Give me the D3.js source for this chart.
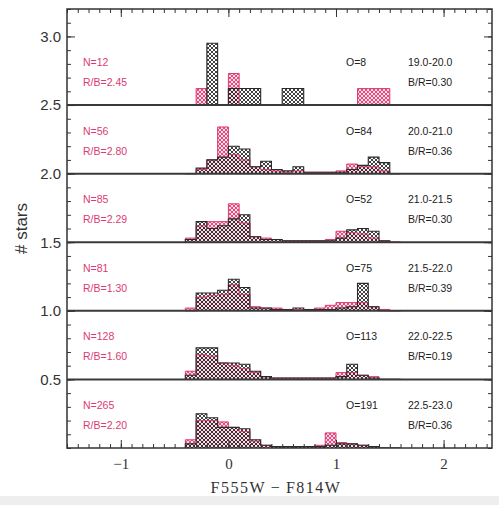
<!DOCTYPE html>
<html>
<head>
<meta charset="utf-8">
<script src="https://cdn.jsdelivr.net/npm/d3@7"></script>
<style>
  html, body { margin: 0; padding: 0; background: #ffffff; }
  svg { display: block; }
</style>
</head>
<body>
<svg id="chart" width="499" height="505"></svg>
<script>
// Colour-distribution histograms, one strip per magnitude bin (stacked by offset)
const binStarts = [-0.4, -0.3, -0.2, -0.1, 0.0, 0.1, 0.2, 0.3, 0.4, 0.5,
                   0.6, 0.7, 0.8, 0.9, 1.0, 1.1, 1.2, 1.3, 1.4, 1.5];
const binWidth = 0.1;

const panelOffsets = [2.5, 2.0, 1.5, 1.0, 0.5, 0.0];

const redLabels   = ["N=12", "N=56", "N=85", "N=81", "N=128", "N=265"];
const ratioLabels = ["R/B=2.45", "R/B=2.80", "R/B=2.29", "R/B=1.30", "R/B=1.60", "R/B=2.20"];
const blackLabels = ["O=8", "O=84", "O=52", "O=75", "O=113", "O=191"];
const magLabels   = ["19.0-20.0", "20.0-21.0", "21.0-21.5", "21.5-22.0", "22.0-22.5", "22.5-23.0"];
const bRatioLabels = ["B/R=0.30", "B/R=0.36", "B/R=0.30", "B/R=0.39", "B/R=0.19", "B/R=0.36"];

const redValues = [
  [0, 0.12, 0, 0, 0.23, 0, 0, 0, 0, 0, 0, 0, 0, 0, 0, 0, 0.12, 0.12, 0.12, 0],
  [0, 0.03, 0.10, 0.34, 0.14, 0.10, 0.05, 0.03, 0.02, 0.01, 0.02, 0.01, 0.01, 0.01, 0.02, 0.07, 0.05, 0.05, 0.02, 0],
  [0.03, 0.12, 0.15, 0.15, 0.28, 0.14, 0.04, 0.03, 0.02, 0.01, 0.01, 0.01, 0.01, 0.02, 0.08, 0.07, 0.06, 0.03, 0.01, 0],
  [0.02, 0.10, 0.11, 0.12, 0.19, 0.12, 0.03, 0.02, 0.02, 0.01, 0.01, 0.01, 0.02, 0.04, 0.06, 0.06, 0.06, 0.03, 0.01, 0],
  [0.06, 0.18, 0.17, 0.12, 0.10, 0.08, 0.05, 0.02, 0.01, 0.01, 0.01, 0.01, 0.01, 0.01, 0.05, 0.05, 0.03, 0.02, 0, 0],
  [0.06, 0.20, 0.20, 0.19, 0.15, 0.12, 0.05, 0.02, 0.01, 0.01, 0.01, 0.01, 0.02, 0.11, 0.04, 0.03, 0.02, 0.01, 0, 0]
];

const blackValues = [
  [0, 0, 0.45, 0, 0.12, 0.12, 0.12, 0, 0, 0.12, 0.12, 0, 0, 0, 0, 0, 0, 0, 0, 0],
  [0, 0.04, 0.10, 0.12, 0.20, 0.18, 0.05, 0.09, 0.03, 0.02, 0.05, 0.01, 0.01, 0.01, 0.01, 0.03, 0.06, 0.12, 0.08, 0],
  [0.02, 0.15, 0.10, 0.12, 0.17, 0.20, 0.04, 0.02, 0.02, 0.01, 0.01, 0.01, 0.01, 0.01, 0.03, 0.09, 0.10, 0.08, 0.01, 0],
  [0, 0.13, 0.13, 0.15, 0.23, 0.17, 0.02, 0.02, 0.01, 0.01, 0.02, 0.01, 0.01, 0.01, 0.02, 0.03, 0.20, 0.03, 0, 0],
  [0.03, 0.23, 0.23, 0.12, 0.12, 0.11, 0.06, 0.02, 0.01, 0.01, 0.01, 0.01, 0.01, 0.01, 0.02, 0.11, 0.03, 0.01, 0, 0],
  [0.03, 0.25, 0.22, 0.15, 0.15, 0.14, 0.06, 0.02, 0.01, 0.01, 0.01, 0.01, 0.01, 0.02, 0.03, 0.03, 0.02, 0.01, 0, 0]
];

const xMajorTicks = [-1, 0, 1, 2];
const yMajorTicks = [0.5, 1.0, 1.5, 2.0, 2.5, 3.0];

const RED = "#dc3a74";
const DARK = "#2a2a2a";

const svg = d3.select("#chart");
const box = { left: 67, right: 492, top: 9, bottom: 448 };

const x = d3.scaleLinear().domain([-1.5, 2.45]).range([box.left, box.right]);
const y = d3.scaleLinear().domain([0, 3.2]).range([box.bottom, box.top]);

// hatch patterns
const defs = svg.append("defs");
function hatch(id, color, bg, size, width) {
  const p = defs.append("pattern").attr("id", id)
    .attr("patternUnits", "userSpaceOnUse").attr("width", size).attr("height", size);
  if (bg) p.append("rect").attr("width", size).attr("height", size).attr("fill", bg);
  p.append("path").attr("d", `M0,0L${size},${size}M${size},0L0,${size}`)
    .attr("stroke", color).attr("stroke-width", width).attr("fill", "none");
}
hatch("hatch-red", RED, "rgba(248,190,208,0.55)", 4, 0.9);
hatch("hatch-black", DARK, null, 4, 0.9);

const plot = svg.append("g");
const clip = defs.append("clipPath").attr("id", "frame-clip");
clip.append("rect").attr("x", box.left).attr("y", box.top)
  .attr("width", box.right - box.left).attr("height", box.bottom - box.top);

function binData(values, base) {
  return binStarts.map((b, i) => ({ x0: b, x1: b + binWidth, base, v: values[i] }))
    .filter(d => d.v > 0);
}

function drawBars(g, values, base, fill) {
  g.selectAll(null).data(binData(values, base)).join("rect")
    .attr("x", d => x(d.x0))
    .attr("width", d => x(d.x1) - x(d.x0))
    .attr("y", d => y(d.base + d.v))
    .attr("height", d => y(d.base) - y(d.base + d.v))
    .attr("fill", fill);
}

function drawOutline(g, values, base, color, w) {
  const pts = binStarts.map((b, i) => [b, base + values[i]]);
  pts.unshift([binStarts[0], base]);
  pts.push([binStarts[binStarts.length - 1] + binWidth, base + values[values.length - 1]]);
  pts.push([binStarts[binStarts.length - 1] + binWidth, base]);
  const line = d3.line().x(d => x(d[0])).y(d => y(d[1])).curve(d3.curveStepAfter);
  g.append("path").attr("d", line(pts)).attr("fill", "none")
    .attr("stroke", color).attr("stroke-width", w).attr("stroke-linejoin", "miter");
}

const hist = plot.append("g").attr("clip-path", "url(#frame-clip)");
panelOffsets.forEach((base, k) => {
  const g = hist.append("g");
  drawBars(g, redValues[k], base, "url(#hatch-red)");
  drawBars(g, blackValues[k], base, "url(#hatch-black)");
  drawOutline(g, redValues[k], base, RED, 1);
  drawOutline(g, blackValues[k], base, DARK, 1.1);
});

// separators between strips
plot.append("g").selectAll("line").data(panelOffsets.filter(v => v > 0)).join("line")
  .attr("x1", box.left).attr("x2", box.right)
  .attr("y1", d => y(d)).attr("y2", d => y(d))
  .attr("stroke", "#3a3a3a").attr("stroke-width", 2);

// strip annotations
const ann = plot.append("g").attr("font-family", "Liberation Sans, Arial, sans-serif")
  .attr("font-size", 10.5);
panelOffsets.forEach((base, k) => {
  const yTop = y(base) - 43, yBot = y(base) - 23;
  ann.append("text").attr("x", 83).attr("y", yTop + 4).attr("fill", RED).text(redLabels[k]);
  ann.append("text").attr("x", 83).attr("y", yBot + 4).attr("fill", RED).text(ratioLabels[k]);
  ann.append("text").attr("x", 346).attr("y", yTop + 4).attr("fill", "#222").text(blackLabels[k]);
  ann.append("text").attr("x", 408).attr("y", yTop + 4).attr("fill", "#222").text(magLabels[k]);
  ann.append("text").attr("x", 408).attr("y", yBot + 4).attr("fill", "#222").text(bRatioLabels[k]);
});

// axes with inward ticks on all four sides
function styleAxis(g) {
  g.select(".domain").remove();
  g.selectAll(".tick line").attr("stroke", "#333").attr("stroke-width", 1);
}
const minorX = x.ticks(40), minorY = y.ticks(32);

svg.append("g").attr("transform", `translate(0,${box.bottom})`)
  .call(d3.axisBottom(x).tickValues(minorX).tickSize(-4).tickFormat("")).call(styleAxis);
const xAxis = svg.append("g").attr("transform", `translate(0,${box.bottom})`)
  .call(d3.axisBottom(x).tickValues(xMajorTicks).tickSize(-8).tickPadding(10)
    .tickFormat(d => d === 0 ? "0" : (d < 0 ? "\u2212" + Math.abs(d) : String(d))))
  .call(styleAxis);
xAxis.selectAll("text").attr("font-family", "Liberation Serif, Times New Roman, serif")
  .attr("font-size", 15).attr("fill", "#333");

svg.append("g").attr("transform", `translate(0,${box.top})`)
  .call(d3.axisTop(x).tickValues(minorX).tickSize(-4).tickFormat("")).call(styleAxis);
svg.append("g").attr("transform", `translate(0,${box.top})`)
  .call(d3.axisTop(x).tickValues(xMajorTicks).tickSize(-8).tickFormat("")).call(styleAxis);

svg.append("g").attr("transform", `translate(${box.left},0)`)
  .call(d3.axisLeft(y).tickValues(minorY).tickSize(-4).tickFormat("")).call(styleAxis);
const yAxis = svg.append("g").attr("transform", `translate(${box.left},0)`)
  .call(d3.axisLeft(y).tickValues(yMajorTicks).tickSize(-8).tickPadding(6).tickFormat(d3.format(".1f")))
  .call(styleAxis);
yAxis.selectAll("text").attr("font-family", "Liberation Sans, Arial, sans-serif")
  .attr("font-size", 15).attr("fill", "#333");

svg.append("g").attr("transform", `translate(${box.right},0)`)
  .call(d3.axisRight(y).tickValues(minorY).tickSize(-4).tickFormat("")).call(styleAxis);
svg.append("g").attr("transform", `translate(${box.right},0)`)
  .call(d3.axisRight(y).tickValues(yMajorTicks).tickSize(-8).tickFormat("")).call(styleAxis);

// frame
svg.append("rect").attr("x", box.left).attr("y", box.top)
  .attr("width", box.right - box.left).attr("height", box.bottom - box.top)
  .attr("fill", "none").attr("stroke", "#333").attr("stroke-width", 1.5);

// axis titles
svg.append("text").attr("x", 276).attr("y", 493).attr("text-anchor", "middle")
  .attr("font-family", "Liberation Serif, Times New Roman, serif").attr("font-size", 16)
  .attr("letter-spacing", 1.5).attr("fill", "#333").text("F555W\u2009\u2212\u2009F814W");
svg.append("text").attr("transform", `translate(27,${(box.top + box.bottom) / 2}) rotate(-90)`)
  .attr("text-anchor", "middle").attr("font-family", "Liberation Sans, Arial, sans-serif")
  .attr("font-size", 17).attr("fill", "#333").text("# stars");

// light strip along the lower edge
svg.append("rect").attr("x", 0).attr("y", 496).attr("width", 499).attr("height", 9).attr("fill", "#eeeeee");
</script>
</body>
</html>
